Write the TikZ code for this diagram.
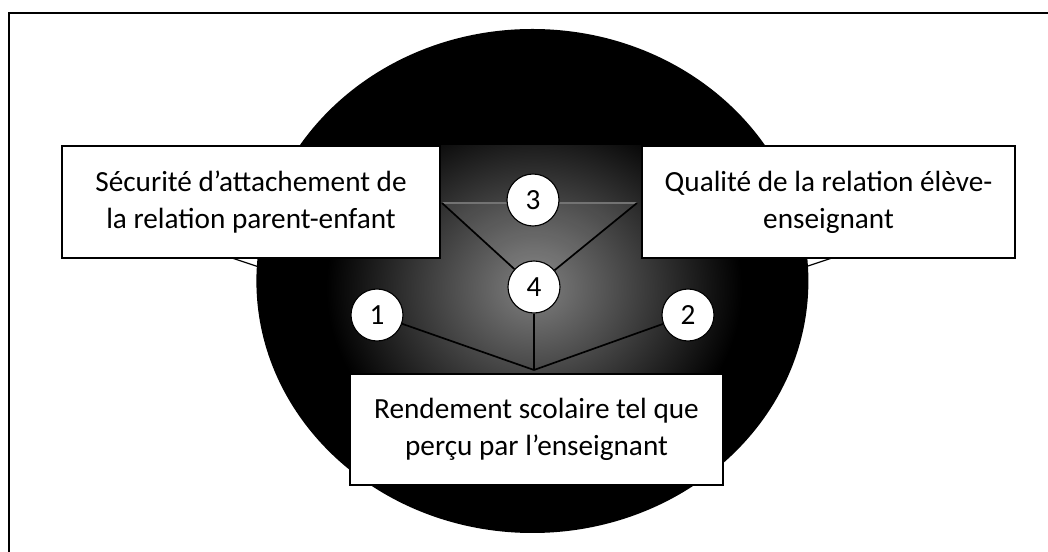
\documentclass[tikz,border=0pt]{standalone}
\usepackage{fontspec}
\setmainfont{Carlito}
\usetikzlibrary{calc}
\tikzset{
	textbox/.style={draw=black, line width=1pt, fill=white, align=center, inner sep=2pt, font=\fontsize{20.8}{26.3}\selectfont},
	numcircle/.style={circle, draw=black, line width=0.8pt, fill=white, minimum size=1.3cm, inner sep=0pt, font=\fontsize{20.8}{24}\selectfont},
	link/.style={line width=1.2pt, color=black}
}

\begin{document}
\begin{tikzpicture}
			%%%%% START %%%%%
			\useasboundingbox (0, 0) rectangle (26.2, 13.8);
			
			% frame
			\draw[line width=1.2pt] (0.225, 0) -- (0.225, 13.475) -- (26.2, 13.475);
			
			% callout wedges
			\draw[fill=white, line width=0.8pt] (5.8, 7.35) -- (6.7, 7.05) -- (6.7, 7.35);
			\draw[fill=white, line width=0.8pt] (20.8, 7.35) -- (19.9, 7.05) -- (19.9, 7.35);
			
			% disc
			\fill[black] (13.31, 6.775) ellipse (6.9 and 6.3);
			
			% glow
			\begin{scope}
				\clip (13.31, 6.775) ellipse (6.9 and 6.3);
				\clip (6, 4.45) rectangle (21, 10.15);
				\shade[inner color=black!50, outer color=black] (13.35, 6.6) ellipse (5.2 and 4.6);
			\end{scope}
			
			\coordinate (tl) at (11.05, 8.725);
			\coordinate (tr) at (15.925, 8.725);
			\coordinate (meet) at (13.35, 4.55);
			
			\fill[white, opacity=0.08] (tl) -- (tr) -- (13.35, 6.625) -- cycle;
			\draw[black!55, line width=0.8pt] (tl) -- (tr);
			
			\node[numcircle] (n4) at (13.35, 6.625) {4};
			\node[numcircle] (n3) at (13.325, 8.8) {3};
			\node[numcircle] (n1) at (9.425, 5.925) {1};
			\node[numcircle] (n2) at (17.2, 5.925) {2};
			
			\draw[link] (tl) -- (n4);
			\draw[link] (tr) -- (n4);
			\draw[link] (n4) -- (meet);
			\draw[link] (n1) -- (meet);
			\draw[link] (n2) -- (meet);
			
			% boxes
			\node[textbox, minimum width=9.45cm, minimum height=2.8cm] (secu) at (6.275, 8.75) {Sécurité d’attachement de\\la relation parent-enfant};
			\node[textbox, minimum width=9.325cm, minimum height=2.8cm] (qual) at (20.7125, 8.75) {Qualité de la relation élève-\\enseignant};
			\node[textbox, minimum width=9.325cm, minimum height=2.775cm] (rend) at (13.4125, 3.0625) {Rendement scolaire tel que\\perçu par l’enseignant};
			
			%%%%% END %%%%%
\end{tikzpicture}
\end{document}
